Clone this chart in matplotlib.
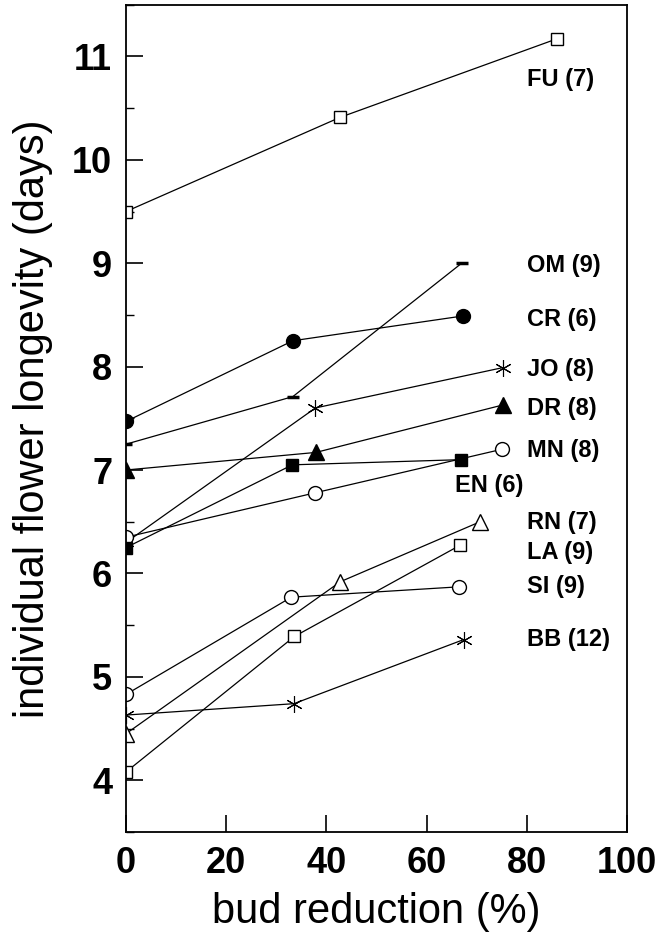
import matplotlib
matplotlib.use("Agg")
import matplotlib.pyplot as plt
from matplotlib.ticker import MultipleLocator

plt.rcParams['font.family'] = ['Liberation Sans', 'DejaVu Sans']

# ---- data (bud reduction %, flower longevity days) ----
FU_x = [0, 42.7, 86]
FU_y = [9.50, 10.41, 11.17]
OM_x = [0, 33.3, 67]
OM_y = [7.25, 7.71, 9.0]
CR_x = [0, 33.3, 67.3]
CR_y = [7.47, 8.25, 8.49]
JO_x = [0, 37.8, 75.2]
JO_y = [6.30, 7.60, 7.99]
DR_x = [0, 37.9, 75.3]
DR_y = [7.0, 7.17, 7.63]
MN_x = [0, 37.8, 75.0]
MN_y = [6.35, 6.78, 7.20]
EN_x = [0, 33.2, 66.9]
EN_y = [6.25, 7.05, 7.10]
RN_x = [0, 42.8, 70.7]
RN_y = [4.45, 5.92, 6.50]
LA_x = [0, 33.6, 66.6]
LA_y = [4.08, 5.39, 6.27]
SI_x = [0, 33.0, 66.4]
SI_y = [4.83, 5.77, 5.87]
BB_x = [0, 33.5, 67.4]
BB_y = [4.63, 4.74, 5.36]

labels = ["FU (7)", "OM (9)", "CR (6)", "JO (8)", "DR (8)", "MN (8)",
          "EN (6)", "RN (7)", "LA (9)", "SI (9)", "BB (12)"]
label_x = [80, 80, 80, 80, 80, 80, 65.7, 80, 80, 80, 80]
label_y = [10.78, 8.98, 8.46, 7.97, 7.59, 7.19, 6.85, 6.49, 6.20, 5.87, 5.36]

x_ticks = [0, 20, 40, 60, 80, 100]
y_ticks = [4, 5, 6, 7, 8, 9, 10, 11]

fig = plt.figure(figsize=(6.6, 9.4), dpi=100)
ax = fig.add_axes([0.191, 0.115, 0.759, 0.88])

star = (6, 2, 0)
series = [
    (FU_x, FU_y, dict(marker='s', mfc='white', ms=9)),
    (OM_x, OM_y, dict(marker='_', ms=9, mew=2.5)),
    (CR_x, CR_y, dict(marker='o', mfc='black', ms=10)),
    (JO_x, JO_y, dict(marker=star, mfc='black', ms=12, mew=0.8)),
    (DR_x, DR_y, dict(marker='^', mfc='black', ms=11)),
    (MN_x, MN_y, dict(marker='o', mfc='white', ms=10)),
    (EN_x, EN_y, dict(marker='s', mfc='black', ms=9)),
    (RN_x, RN_y, dict(marker='^', mfc='white', ms=11)),
    (LA_x, LA_y, dict(marker='s', mfc='white', ms=9)),
    (SI_x, SI_y, dict(marker='o', mfc='white', ms=10)),
    (BB_x, BB_y, dict(marker=star, mfc='black', ms=12, mew=0.8)),
]
for xs, ys, kw in series:
    opts = dict(color='black', lw=0.9, mec='black', mew=kw.pop('mew', 1.0))
    opts.update(kw)
    ax.plot(xs, ys, **opts)

for t, lx, ly in zip(labels, label_x, label_y):
    ax.text(lx, ly, t, fontsize=17, fontweight='bold', ha='left', va='center')

ax.set_xlim(0, 100)
ax.set_ylim(3.5, 11.5)
ax.set_xticks(x_ticks)
ax.set_yticks(y_ticks)
ax.yaxis.set_minor_locator(MultipleLocator(0.5))
ax.tick_params(axis='both', which='major', direction='in', length=12, width=1.2,
               labelsize=26, pad=10)
ax.tick_params(axis='y', which='minor', direction='in', length=6, width=1.0)
ax.tick_params(axis='x', which='both', top=False)
ax.tick_params(axis='y', which='both', right=False)
for lab in ax.get_xticklabels() + ax.get_yticklabels():
    lab.set_fontweight('bold')
for s in ax.spines.values():
    s.set_linewidth(1.3)

ax.set_xlabel("bud reduction (%)", fontsize=30, labelpad=8)
ax.set_ylabel("individual flower longevity (days)", fontsize=30, labelpad=14)

fig.savefig("out.png", dpi=100)
